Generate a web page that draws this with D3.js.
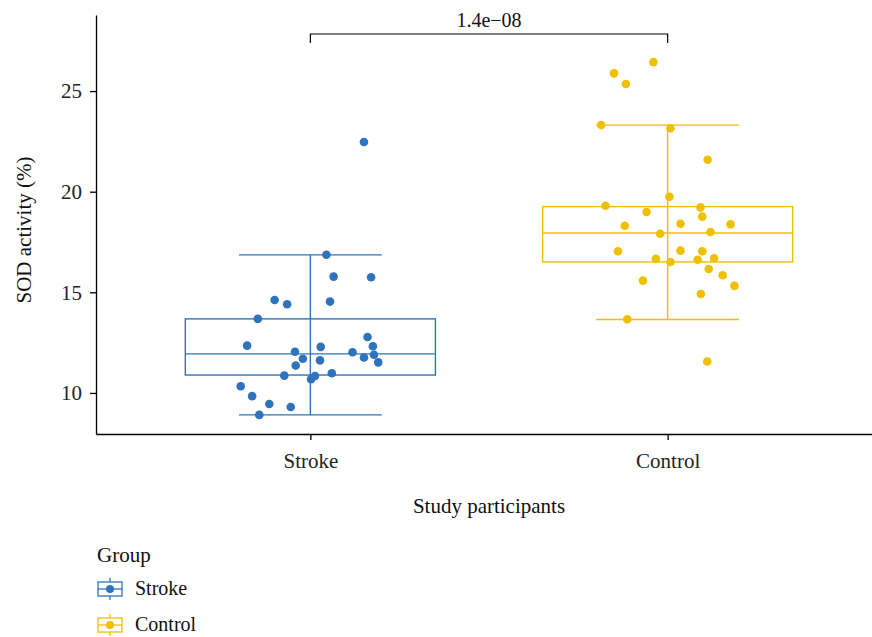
<!DOCTYPE html>
<html>
<head>
<meta charset="utf-8">
<script src="https://cdn.jsdelivr.net/npm/d3@7"></script>
<style>
  body { margin: 0; background: #fff; }
  text { font-family: "Liberation Serif", "DejaVu Serif", serif; }
</style>
</head>
<body>
<div class="chart"></div>
<script>
var width = 872,
    height = 637;

// groups and colours
var groups = ["Stroke", "Control"];
var colors = ["#2F73BA", "#EFC000"];

// individual values (SOD activity %) and their horizontal jitter (category units)
var strokeValues = [22.47, 16.87, 15.78, 15.75, 14.62, 14.41, 14.54, 13.68, 12.78, 12.35,
                    12.32, 12.29, 12.05, 12.02, 11.90, 11.76, 11.70, 11.62, 11.52, 11.36,
                    10.98, 10.86, 10.84, 10.68, 10.33, 9.84, 9.45, 9.30, 8.91];
var strokeJitter = [0.15, 0.045, 0.065, 0.17, -0.1, -0.065, 0.055, -0.147, 0.16, -0.177,
                    0.175, 0.029, -0.043, 0.118, 0.178, 0.15, -0.021, 0.027, 0.19, -0.041,
                    0.06, -0.073, 0.013, 0.002, -0.195, -0.163, -0.115, -0.055, -0.143];
var controlValues = [26.44, 25.88, 25.35, 23.31, 23.15, 21.59, 19.75, 19.30, 19.22, 18.99,
                     18.76, 18.31, 18.41, 18.38, 18.00, 17.91, 17.04, 17.07, 17.04, 16.66,
                     16.69, 16.62, 16.51, 16.16, 15.85, 15.58, 15.32, 14.92, 13.66, 11.56];
var controlJitter = [-0.04, -0.15, -0.117, -0.186, 0.008, 0.112, 0.005, -0.174, 0.092, -0.059,
                     0.097, -0.12, 0.036, 0.176, 0.12, -0.021, -0.139, 0.036, 0.097, -0.033,
                     0.13, 0.084, 0.008, 0.115, 0.154, -0.069, 0.187, 0.093, -0.113, 0.111];

// box statistics: lower whisker, Q1, median, Q3, upper whisker
var boxLow    = [8.91, 13.65];
var boxQ1     = [10.89, 16.51];
var boxMedian = [11.94, 17.95];
var boxQ3     = [13.68, 19.26];
var boxHigh   = [16.86, 23.31];

var yTicks = [10, 15, 20, 25];
var pLabel = "1.4e\u221208";

var svg = d3.select(".chart")
  .append("svg")
    .attr("width", width)
    .attr("height", height);

var x = d3.scaleLinear().domain([0.4, 2.6]).range([96, 882]);
var y = d3.scaleLinear().domain([7.96, 28.78]).range([434, 15]);
var unit = x(2) - x(1);

var points = [];
strokeValues.forEach(function(v, i) { points.push({ g: 0, v: v, j: strokeJitter[i] }); });
controlValues.forEach(function(v, i) { points.push({ g: 1, v: v, j: controlJitter[i] }); });

// boxes
var boxes = svg.selectAll("g.box")
  .data(groups)
  .enter()
  .append("g")
    .attr("class", "box")
    .attr("stroke", function(d, i) { return colors[i]; })
    .attr("fill", "none")
    .attr("stroke-width", 1.4);

// whisker line
boxes.append("line")
  .attr("x1", function(d, i) { return x(i + 1); })
  .attr("x2", function(d, i) { return x(i + 1); })
  .attr("y1", function(d, i) { return y(boxLow[i]); })
  .attr("y2", function(d, i) { return y(boxHigh[i]); });

// whisker caps
[boxLow, boxHigh].forEach(function(arr) {
  boxes.append("line")
    .attr("x1", function(d, i) { return x(i + 1) - unit * 0.2; })
    .attr("x2", function(d, i) { return x(i + 1) + unit * 0.2; })
    .attr("y1", function(d, i) { return y(arr[i]); })
    .attr("y2", function(d, i) { return y(arr[i]); });
});

boxes.append("rect")
  .attr("x", function(d, i) { return x(i + 1) - unit * 0.35; })
  .attr("width", unit * 0.7)
  .attr("y", function(d, i) { return y(boxQ3[i]); })
  .attr("height", function(d, i) { return y(boxQ1[i]) - y(boxQ3[i]); })
  .attr("fill", "#fff");

boxes.append("line")
  .attr("x1", function(d, i) { return x(i + 1) - unit * 0.35; })
  .attr("x2", function(d, i) { return x(i + 1) + unit * 0.35; })
  .attr("y1", function(d, i) { return y(boxMedian[i]); })
  .attr("y2", function(d, i) { return y(boxMedian[i]); });

// whisker through the box (drawn on top in the reference)
boxes.append("line")
  .attr("x1", function(d, i) { return x(i + 1); })
  .attr("x2", function(d, i) { return x(i + 1); })
  .attr("y1", function(d, i) { return y(boxQ1[i]); })
  .attr("y2", function(d, i) { return y(boxQ3[i]); });

// jittered points
svg.selectAll("circle.pt")
  .data(points)
  .enter()
  .append("circle")
    .attr("class", "pt")
    .attr("cx", function(d) { return x(d.g + 1 + d.j); })
    .attr("cy", function(d) { return y(d.v); })
    .attr("r", 4.3)
    .attr("fill", function(d) { return colors[d.g]; });

// axes
var yAxis = svg.append("g")
  .attr("transform", "translate(96,0)")
  .call(d3.axisLeft(y).tickValues(yTicks).tickSize(6).tickSizeOuter(0).tickPadding(8));
var xAxis = svg.append("g")
  .attr("transform", "translate(0,434)")
  .call(d3.axisBottom(x).tickValues([1, 2]).tickFormat(function(d) { return groups[d - 1]; })
    .tickSize(6).tickSizeOuter(0).tickPadding(13));

[yAxis, xAxis].forEach(function(a) {
  a.select(".domain").attr("stroke", "#000").attr("stroke-width", 1.3);
  a.selectAll(".tick line").attr("stroke", "#000").attr("stroke-width", 1.3);
  a.selectAll(".tick text")
    .attr("fill", "#222")
    .style("font-size", "21px")
    .style("font-family", '"Liberation Serif", serif');
});

// axis titles
svg.append("text")
  .attr("transform", "translate(31,230) rotate(-90)")
  .attr("text-anchor", "middle")
  .style("font-size", "21px")
  .attr("fill", "#111")
  .text("SOD activity (%)");

svg.append("text")
  .attr("x", (x.range()[0] + x.range()[1]) / 2)
  .attr("y", 513)
  .attr("text-anchor", "middle")
  .style("font-size", "21px")
  .attr("fill", "#111")
  .text("Study participants");

// significance bracket
var by = 34;
svg.append("path")
  .attr("d", "M" + x(1) + "," + (by + 9) + "V" + by + "H" + x(2) + "V" + (by + 9))
  .attr("fill", "none")
  .attr("stroke", "#000")
  .attr("stroke-width", 1.2);
svg.append("text")
  .attr("x", (x(1) + x(2)) / 2)
  .attr("y", 27)
  .attr("text-anchor", "middle")
  .style("font-size", "20px")
  .attr("fill", "#111")
  .text(pLabel);

// legend
var legend = svg.append("g").attr("transform", "translate(97,0)");
legend.append("text")
  .attr("x", 0)
  .attr("y", 562)
  .style("font-size", "21px")
  .attr("fill", "#111")
  .text("Group");

var keys = legend.selectAll("g.key")
  .data(groups)
  .enter()
  .append("g")
    .attr("class", "key")
    .attr("transform", function(d, i) { return "translate(0," + (589 + i * 36) + ")"; });

keys.append("line")
  .attr("x1", 13).attr("x2", 13).attr("y1", -11).attr("y2", 11)
  .attr("stroke", function(d, i) { return colors[i]; })
  .attr("stroke-width", 1.3);
keys.append("rect")
  .attr("x", 1).attr("y", -7).attr("width", 24).attr("height", 14)
  .attr("fill", "#fff")
  .attr("stroke", function(d, i) { return colors[i]; })
  .attr("stroke-width", 1.3);
keys.append("line")
  .attr("x1", 1).attr("x2", 25).attr("y1", 0).attr("y2", 0)
  .attr("stroke", function(d, i) { return colors[i]; })
  .attr("stroke-width", 1.3);
keys.append("circle")
  .attr("cx", 13).attr("cy", 0).attr("r", 4)
  .attr("fill", function(d, i) { return colors[i]; });
keys.append("text")
  .attr("x", 38)
  .attr("y", 6)
  .style("font-size", "20px")
  .attr("fill", "#111")
  .text(function(d) { return d; });
</script>
</body>
</html>
